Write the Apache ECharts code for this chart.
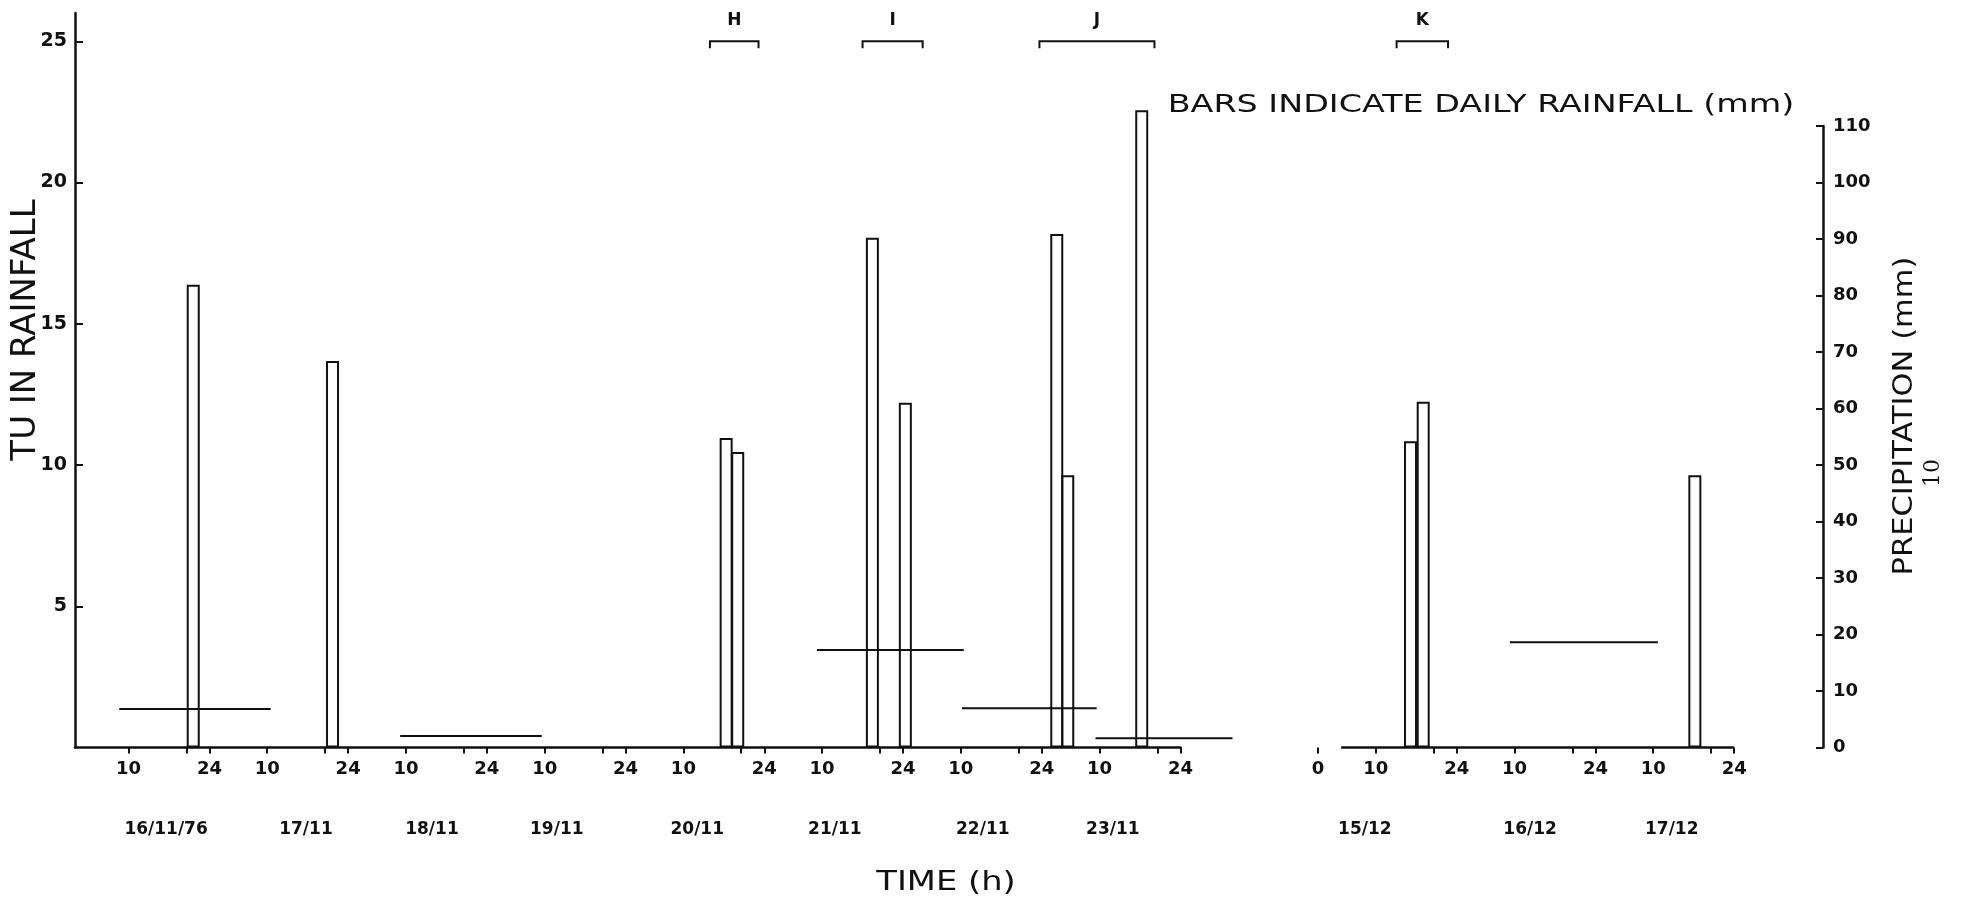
<!DOCTYPE html>
<html>
<head>
<meta charset="utf-8">
<script src="https://cdn.jsdelivr.net/npm/echarts@6/dist/echarts.min.js"></script>
<style>
  html, body { margin: 0; padding: 0; background: #fff; }
  #chart { width: 1962px; height: 901px; }
</style>
</head>
<body>
<div id="chart"></div>
<script>
// Tritium (TU) in rainfall and daily rainfall, Nov/Dec 1976.
// Time axes run in hours from 00h of the first day of each period.

const INK = '#111';

// Daily rainfall bars (mm) - November period
const novBarHours = [21.2, 45.3, 113.4, 115.4, 138.7, 144.4, 170.6, 172.5, 185.3];
const novBarRain  = [81.9, 68.4, 54.8, 52.3, 90.2, 61.0, 90.9, 48.2, 112.8];
// Daily rainfall bars (mm) - December period
const decBarHours = [16.0, 18.2, 65.2];
const decBarRain  = [54.2, 61.2, 48.2];

// Tritium content of rainfall samples (TU), each over a collection interval
const novSampleStart = [8.4, 57.0, 129.1, 154.2, 177.3];
const novSampleEnd   = [34.6, 81.5, 154.5, 177.5, 201.0];
const novSampleTU    = [1.36, 0.41, 3.45, 1.39, 0.33];
const decSampleStart = [33.2];
const decSampleEnd   = [58.8];
const decSampleTU    = [3.73];

// Sampling periods marked along the top
const novPeriodNames = ['H', 'I', 'J'];
const novPeriodStart = [110.6, 137.0, 167.6];
const novPeriodEnd   = [119.0, 147.4, 187.5];
const decPeriodNames = ['K'];
const decPeriodStart = [13.6];
const decPeriodEnd   = [22.5];

// Day captions and where they sit on the hour axis
const novDayNames = ['16/11/76', '17/11', '18/11', '19/11', '20/11', '21/11', '22/11', '23/11'];
const novDayLabelHours = [16.5, 40.7, 62.5, 84.1, 108.4, 132.2, 157.8, 180.3];
const decDayNames = ['15/12', '16/12', '17/12'];
const decDayLabelHours = [8.1, 36.7, 61.2];

// Hour ticks within each day
const labelledHoursOfDay = [10, 24];
const minorHoursOfDay = [20];
const novDays = 8;
const decDays = 3;

// Vertical scale ticks
const tuTicks = [5, 10, 15, 20, 25];
const rainTicks = [0, 10, 20, 30, 40, 50, 60, 70, 80, 90, 100, 110];

function dayTicks(days, hours) {
  const out = [];
  for (let d = 0; d < days; d++) hours.forEach(h => out.push(d * 24 + h));
  return out.sort((a, b) => a - b);
}
const novLabelHours = dayTicks(novDays, labelledHoursOfDay);
const novTickHours = dayTicks(novDays, labelledHoursOfDay.concat(minorHoursOfDay));
const decLabelHours = [0].concat(dayTicks(decDays, labelledHoursOfDay));
const decTickHours = [0].concat(dayTicks(decDays, labelledHoursOfDay.concat(minorHoursOfDay)));

function hourText(v) {
  if (v === 0) return '0';
  const h = Math.round(v) % 24;
  return h === 0 ? '24' : String(h);
}

const FONT = '"DejaVu Sans", "Liberation Sans", sans-serif';
const tickLabelStyle = { color: INK, fontFamily: FONT, fontWeight: 'bold', fontSize: 18, margin: 13 };

function hourAxis(grid, min, max, tickVals, labelVals, showLine) {
  return {
    type: 'value', gridIndex: grid, min: min, max: max, position: 'bottom',
    axisLine: { show: showLine, onZero: false, lineStyle: { color: INK, width: 2.5 } },
    axisTick: { show: true, inside: false, length: 6, customValues: tickVals, lineStyle: { color: INK, width: 2 } },
    axisLabel: Object.assign({ customValues: labelVals, formatter: hourText }, tickLabelStyle),
    splitLine: { show: false }
  };
}
function dayAxis(grid, min, max, hours, names) {
  return {
    type: 'value', gridIndex: grid, min: min, max: max, position: 'bottom',
    axisLine: { show: false }, axisTick: { show: false }, splitLine: { show: false },
    axisLabel: {
      customValues: hours,
      formatter: v => names[hours.indexOf(v)],
      color: INK, fontFamily: FONT, fontWeight: 'bold', fontSize: 17, margin: 74
    }
  };
}
function hiddenY(grid, max) {
  return { type: 'value', gridIndex: grid, min: 0, max: max, show: false, splitLine: { show: false } };
}

function sampleItem(params, api) {
  const a = api.coord([api.value(0), api.value(2)]);
  const b = api.coord([api.value(1), api.value(2)]);
  return {
    type: 'line',
    shape: { x1: a[0], y1: a[1], x2: b[0], y2: b[1] },
    style: { stroke: INK, lineWidth: 2 }
  };
}
function periodRenderer(names) {
  return function (params, api) {
    const a = api.coord([api.value(0), 25]);
    const b = api.coord([api.value(1), 25]);
    const y = a[1];
    return {
      type: 'group',
      children: [
        { type: 'polyline', shape: { points: [[a[0], y + 7], [a[0], y], [b[0], y], [b[0], y + 7]] },
          style: { stroke: INK, lineWidth: 2, fill: null } },
        { type: 'text', x: (a[0] + b[0]) / 2, y: y - 21,
          style: { text: names[params.dataIndex], font: 'bold 17px ' + FONT, fill: INK,
                   align: 'center', verticalAlign: 'middle' } }
      ]
    };
  };
}

const PX_PER_HOUR = 5.78;
const novMin = 0.75, novMax = 192, decMax = 72;
const baseY = 747.5;
const tuPx = 28.25;               // pixels per TU (1 TU = 5 mm)
const gridTop = baseY - 26 * tuPx;
const gridHeight = 26 * tuPx;

const option = {
  backgroundColor: '#fff',
  animation: false,
  grid: [
    { left: 70.7 + novMin * PX_PER_HOUR, width: (novMax - novMin) * PX_PER_HOUR, top: gridTop, height: gridHeight },
    { left: 1318, width: decMax * PX_PER_HOUR, top: gridTop, height: gridHeight },
    { left: 1795, width: 28, top: baseY - 22 * tuPx, height: 22 * tuPx }
  ],
  xAxis: [
    hourAxis(0, novMin, novMax, novTickHours, novLabelHours, true),
    dayAxis(0, novMin, novMax, novDayLabelHours, novDayNames),
    hourAxis(1, 0, decMax, decTickHours, decLabelHours, false),
    dayAxis(1, 0, decMax, decDayLabelHours, decDayNames),
    { type: 'value', gridIndex: 2, show: false, min: 0, max: 1 }
  ],
  yAxis: [
    {
      type: 'value', gridIndex: 0, min: 0, max: 26, position: 'left',
      axisLine: { show: true, onZero: false, lineStyle: { color: INK, width: 2.5 } },
      axisTick: { show: true, inside: true, length: 8, customValues: tuTicks, lineStyle: { color: INK, width: 2 } },
      axisLabel: { customValues: tuTicks, color: INK, fontFamily: FONT, fontWeight: 'bold', fontSize: 19, margin: 8 },
      splitLine: { show: false }
    },
    hiddenY(0, 130),
    hiddenY(1, 26),
    hiddenY(1, 130),
    {
      type: 'value', gridIndex: 2, min: 0, max: 110, position: 'right',
      axisLine: { show: true, onZero: false, lineStyle: { color: INK, width: 2.5 } },
      axisTick: { show: true, inside: true, length: 7, customValues: rainTicks, lineStyle: { color: INK, width: 2 } },
      axisLabel: { customValues: rainTicks, color: INK, fontFamily: FONT, fontWeight: 'bold', fontSize: 18, margin: 10 },
      splitLine: { show: false }
    }
  ],
  series: [
    {
      name: 'Daily rainfall (Nov)', type: 'bar', xAxisIndex: 0, yAxisIndex: 1, barWidth: 13, silent: true,
      itemStyle: { color: 'rgba(0,0,0,0)', borderColor: INK, borderWidth: 2 },
      data: novBarHours.map((h, i) => [h, novBarRain[i]])
    },
    {
      name: 'Daily rainfall (Dec)', type: 'bar', xAxisIndex: 2, yAxisIndex: 3, barWidth: 13, silent: true,
      itemStyle: { color: 'rgba(0,0,0,0)', borderColor: INK, borderWidth: 2 },
      data: decBarHours.map((h, i) => [h, decBarRain[i]]),
      markLine: {
        silent: true, symbol: ['none', 'none'], label: { show: false },
        lineStyle: { color: INK, width: 2.5, type: 'solid' },
        data: [[{ coord: [4, 0] }, { coord: [decMax, 0] }]]
      }
    },
    {
      name: 'TU (Nov)', type: 'custom', xAxisIndex: 0, yAxisIndex: 0, clip: false, silent: true,
      renderItem: sampleItem, encode: { x: [0, 1], y: 2 },
      data: novSampleStart.map((s, i) => [s, novSampleEnd[i], novSampleTU[i]])
    },
    {
      name: 'TU (Dec)', type: 'custom', xAxisIndex: 2, yAxisIndex: 2, clip: false, silent: true,
      renderItem: sampleItem, encode: { x: [0, 1], y: 2 },
      data: decSampleStart.map((s, i) => [s, decSampleEnd[i], decSampleTU[i]])
    },
    {
      name: 'Periods (Nov)', type: 'custom', xAxisIndex: 0, yAxisIndex: 0, clip: false, silent: true,
      renderItem: periodRenderer(novPeriodNames), encode: { x: [0, 1] },
      data: novPeriodStart.map((s, i) => [s, novPeriodEnd[i]])
    },
    {
      name: 'Periods (Dec)', type: 'custom', xAxisIndex: 2, yAxisIndex: 2, clip: false, silent: true,
      renderItem: periodRenderer(decPeriodNames), encode: { x: [0, 1] },
      data: decPeriodStart.map((s, i) => [s, decPeriodEnd[i]])
    }
  ],
  graphic: [
    { type: 'text', x: 26, y: 330, rotation: Math.PI / 2, silent: true,
      style: { text: 'TU IN RAINFALL', font: 'normal 34px ' + FONT, fill: INK, align: 'center', verticalAlign: 'middle' } },
    { type: 'text', x: 1905, y: 416, rotation: Math.PI / 2, scaleX: 1.13, silent: true,
      style: { text: 'PRECIPITATION (mm)', font: 'normal 27px ' + FONT, fill: INK, align: 'center', verticalAlign: 'middle' } },
    { type: 'text', x: 1481, y: 106, scaleX: 1.39, silent: true,
      style: { text: 'BARS INDICATE DAILY RAINFALL (mm)', font: 'normal 24px ' + FONT, fill: INK, align: 'center', verticalAlign: 'middle' } },
    { type: 'text', x: 946, y: 883, scaleX: 1.25, silent: true,
      style: { text: 'TIME (h)', font: 'normal 27px ' + FONT, fill: INK, align: 'center', verticalAlign: 'middle' } },
    { type: 'text', x: 1933, y: 473, rotation: Math.PI / 2, silent: true,
      style: { text: '10', font: 'normal 22px "DejaVu Serif", serif', fill: INK, align: 'center', verticalAlign: 'middle' } }
  ]
};

const chart = echarts.init(document.getElementById('chart'), null, { renderer: 'canvas' });
chart.setOption(option);
</script>
</body>
</html>
